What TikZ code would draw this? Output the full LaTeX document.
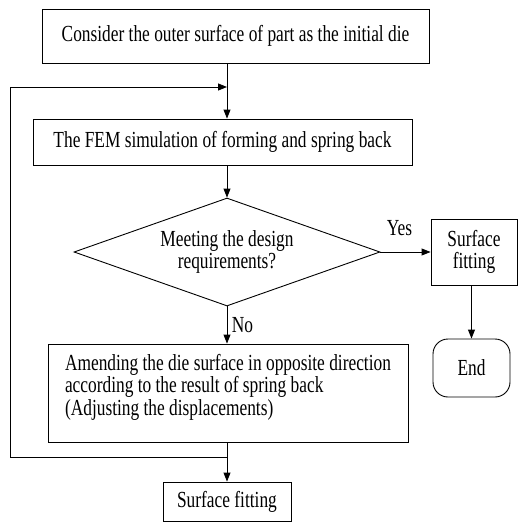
\documentclass[tikz,border=0pt]{standalone}
\usepackage{fontspec}
\setmainfont[FakeStretch=0.755]{Liberation Serif}
\usetikzlibrary{shapes.geometric,arrows.meta}
\tikzset{
  box/.style={draw,rectangle,inner sep=0pt,align=center},
  arr/.style={-{Triangle[length=9pt,width=7pt]}}
}
\begin{document}
\begin{tikzpicture}[x=1pt,y=-1pt,line width=0.9pt,font=\fontsize{23}{22.5}\selectfont]
\useasboundingbox (0,0) rectangle (518,522);

% process boxes
\node[box,minimum width=387pt,minimum height=54pt] (init) at (235.5,36) {Consider the outer surface of part as the initial die};
\node[box,minimum width=379pt,minimum height=46pt] (fem) at (222.5,142) {The FEM simulation of forming and spring back};
\node[draw,diamond,aspect=2.83,inner sep=0pt,minimum width=306pt,minimum height=108pt,align=center] (check) at (227,252) {Meeting the design\\requirements?};
\node[box,minimum width=360pt,minimum height=98pt,align=left] (amend) at (228,393) {Amending the die surface in opposite direction\\according to the result of spring back\\(Adjusting the displacements)\\[-6pt]};
\node[box,minimum width=128pt,minimum height=39pt] (fitb) at (227,501.5) {Surface fitting};
\node[box,minimum width=86pt,minimum height=66pt] (fita) at (474,252) {Surface\\fitting};
\node[box,rounded corners=15pt,minimum width=77pt,minimum height=58pt] (end) at (471.5,368) {End};

% connectors
\coordinate (loopin) at (227,87);
\coordinate (loopout) at (227,457);
\draw[arr] (init.south -| check.north) -- (check.north |- fem.north);
\draw[arr] (fem.south -| check.north) -- (check.north);
\draw[arr] (check.east) -- (fita.west) node[pos=0.38,above=12pt] {Yes};
\draw[arr] (check.south) -- (amend.north -| check.south) node[midway,right=1pt] {No};
\draw[arr] (amend.south -| check.south) -- (fitb.north);
\draw[arr] (fita.south -| end.north) -- (end.north);
\draw[arr] (loopout) -| (10,87) -- (loopin);
\end{tikzpicture}
\end{document}
